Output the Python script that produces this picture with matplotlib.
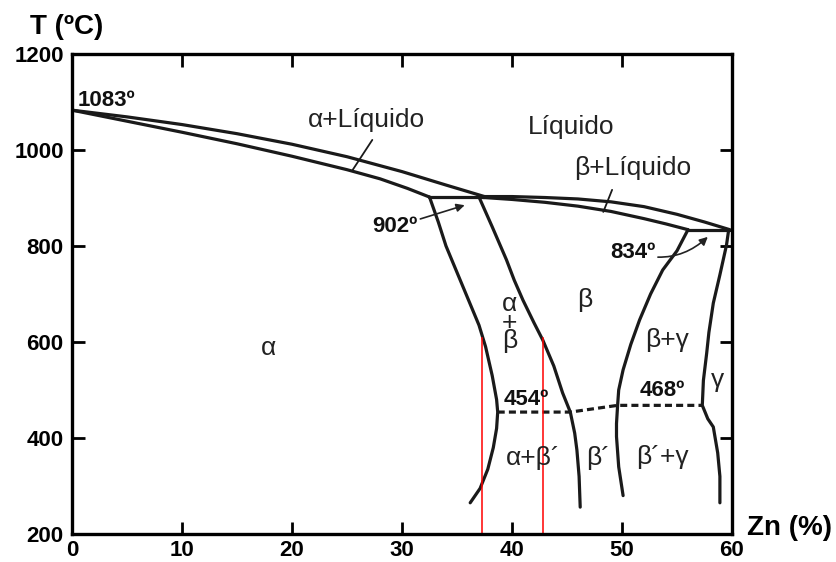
import matplotlib.pyplot as plt

plt.rcParams["font.family"] = ["Liberation Sans", "DejaVu Sans"]

# boundary curves: (Zn %, T in C)
liquidus_alpha = [(0, 1083), (5, 1069), (10, 1053), (15, 1034), (20, 1012),
                  (25, 986), (30, 955), (34, 927), (37.5, 903)]
solidus_alpha = [(0, 1083), (5, 1060), (10, 1037), (15, 1013), (20, 987),
                 (25, 959), (28, 940), (30.5, 920), (32.5, 902)]
peritectic_902 = [(32.5, 902), (37.5, 902)]
liquidus_beta = [(37.5, 903), (40, 903), (43, 901), (46, 898), (49, 892),
                 (52, 882), (55, 866), (57.5, 850), (59.8, 834)]
solidus_beta = [(36.8, 902), (40, 897), (43, 891), (46, 883), (49, 872),
                (52, 857), (54, 846), (56, 834)]
peritectic_834 = [(56, 834), (59.8, 834)]
solvus_alpha = [(32.5, 902), (33.3, 850), (34.0, 800), (35.0, 745), (36.0, 690),
                (37.0, 635), (37.6, 590), (38.2, 530), (38.6, 480), (38.7, 454),
                (38.6, 420), (38.3, 380), (37.8, 335), (37.1, 295), (36.2, 265)]
beta_left = [(37.0, 902), (38.2, 840), (39.5, 771), (40.2, 729), (41.0, 687),
             (42.0, 640), (42.8, 604), (43.8, 550), (44.6, 494), (45.3, 454),
             (45.7, 410), (45.9, 375), (46.1, 320), (46.2, 256)]
beta_right = [(56.0, 834), (55.0, 790), (53.7, 750), (52.6, 700), (51.6, 646),
              (50.8, 595), (50.1, 542), (49.7, 500), (49.6, 468), (49.5, 430),
              (49.5, 403), (49.7, 340), (50.1, 280)]
gamma_left = [(59.7, 834), (59.5, 802), (58.9, 740), (58.3, 681), (57.9, 620),
              (57.7, 577), (57.4, 520), (57.3, 468), (57.8, 440), (58.3, 423),
              (58.7, 369), (58.9, 320), (58.9, 265)]
ordering_dashed = [(38.7, 454), (45.3, 454), (49.6, 468), (57.3, 468)]

red_x = [37.3, 42.8]
red_top = 608

# region labels: (x, T, text)
region_labels = [
    (26.8, 1062, "α+Líquido"),
    (45.4, 1048, "Líquido"),
    (51.0, 962, "β+Líquido"),
    (17.9, 587, "α"),
    (39.8, 640, "α\n+\nβ"),
    (46.6, 687, "β"),
    (54.1, 604, "β+γ"),
    (58.7, 521, "γ"),
    (41.9, 358, "α+β´"),
    (47.8, 358, "β´"),
    (53.7, 360, "β´+γ"),
]
leader_lines = [[(27.3, 1021), (25.5, 958)], [(49.1, 917), (48.3, 871)]]


def draw(ax, pts, **kw):
    xs, ys = zip(*pts)
    ax.plot(xs, ys, color="#1a1a1a", solid_capstyle="round",
            solid_joinstyle="round", **kw)


fig = plt.figure(figsize=(8.37, 5.62), dpi=100)
ax = fig.add_axes([72 / 837, 28 / 562, 660 / 837, 480 / 562])

for curve in [liquidus_alpha, solidus_alpha, peritectic_902, liquidus_beta,
              solidus_beta, peritectic_834, solvus_alpha, beta_left,
              beta_right, gamma_left]:
    draw(ax, curve, lw=2.3)
draw(ax, ordering_dashed, lw=2.3, ls=(0, (2.2, 1.3)))

for xr in red_x:
    ax.plot([xr, xr], [200, red_top], color="red", lw=1.1)

for x, t, s in region_labels:
    ax.text(x, t, s, fontsize=19, ha="center", va="center", color="#222222",
            linespacing=0.72)

for seg in leader_lines:
    draw(ax, seg, lw=1.3)

bold = dict(fontsize=16, fontweight="bold", color="#111111")
ax.text(0.5, 1104, "1083º", ha="left", va="center", **bold)
ax.text(39.2, 481, "454º", ha="left", va="center", **bold)
ax.text(51.6, 500, "468º", ha="left", va="center", **bold)
ax.annotate("902º", xy=(35.7, 885), xytext=(27.3, 840), ha="left", va="center",
            arrowprops=dict(arrowstyle="-|>", color="#222222", lw=1.2,
                            shrinkA=0, shrinkB=0, mutation_scale=12), **bold)
ax.annotate("834º", xy=(57.8, 819), xytext=(48.9, 787), ha="left", va="center",
            arrowprops=dict(arrowstyle="-|>", color="#222222", lw=1.2,
                            shrinkA=0, shrinkB=0, mutation_scale=12,
                            connectionstyle="arc3,rad=0.3"), **bold)

ax.set_xlim(0, 60)
ax.set_ylim(200, 1200)
ax.set_xticks(range(0, 61, 10))
ax.set_yticks(range(200, 1201, 200))
ax.tick_params(direction="in", length=9, width=2, top=True, right=True,
               labelsize=16)
ax.tick_params(axis="x", pad=4)
ax.tick_params(axis="y", pad=6)
for lab in ax.get_xticklabels() + ax.get_yticklabels():
    lab.set_fontweight("bold")
for sp in ax.spines.values():
    sp.set_linewidth(2.4)

fig.text(67 / 837, 1 - 27 / 562, "T (ºC)", fontsize=20, fontweight="bold",
         ha="center", va="center")
fig.text(790 / 837, 1 - 528 / 562, "Zn (%)", fontsize=20, fontweight="bold",
         ha="center", va="center")

fig.savefig("out.png", dpi=100)
